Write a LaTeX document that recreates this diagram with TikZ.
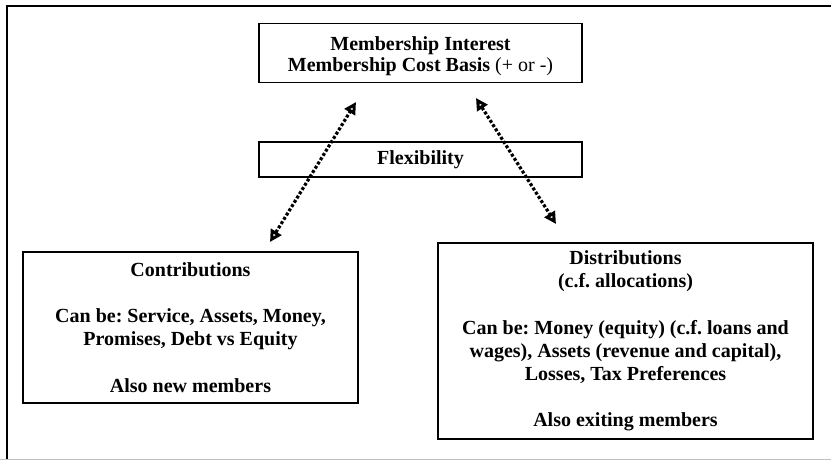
\documentclass[tikz,border=0pt]{standalone}
\usepackage{fontspec}
\setmainfont{Liberation Serif}
\usetikzlibrary{arrows.meta}
\frenchspacing
\begin{document}
\begin{tikzpicture}[x=1pt,y=-1pt,
  box/.style={draw=black, line width=1.8pt, inner sep=0pt, align=center,
    font=\fontsize{20}{23.2}\selectfont\bfseries},
  link/.style={line width=3.2pt, dash pattern=on 3pt off 2pt,
    {Triangle[open,length=12pt,width=12pt,line width=3pt]}-{Triangle[open,length=12pt,width=12pt,line width=3pt]}}
]
\useasboundingbox (0,0) rectangle (831,460);
% frame
\draw[line width=2.5pt] (7,459) -- (7,6) -- (831,6);
\draw[line width=1pt, black!25] (0,459.5) -- (831,459.5);

\node[box, minimum width=323pt, minimum height=59pt,
  font=\fontsize{20}{21.7}\selectfont\bfseries] (top) at (420.5,53)
  {\rule{0pt}{20pt}Membership Interest\\Membership Cost Basis {\mdseries(+ or -)}};
\node[box, minimum width=323pt, minimum height=35pt] (flex) at (420.5,159.5) {Flexibility};
\node[box, minimum width=335pt, minimum height=151pt] (contrib) at (190.5,327.5)
  {Contributions\\[23pt]Can be: Service, Assets, Money,\\Promises, Debt vs Equity\\[23pt]Also new members};
\node[box, minimum width=375pt, minimum height=196pt] (distrib) at (625.5,341)
  {Distributions\\(c.f. allocations)\\[23pt]Can be: Money (equity) (c.f. loans and\\wages), Assets (revenue and capital),\\Losses, Tax Preferences\\[23pt]Also exiting members};

\coordinate (a1) at (356,102);
\coordinate (b1) at (270,242);
\coordinate (a2) at (476,98);
\coordinate (b2) at (556,224);
\draw[link] (b1) -- (a1);
\draw[link] (a2) -- (b2);
\end{tikzpicture}
\end{document}
